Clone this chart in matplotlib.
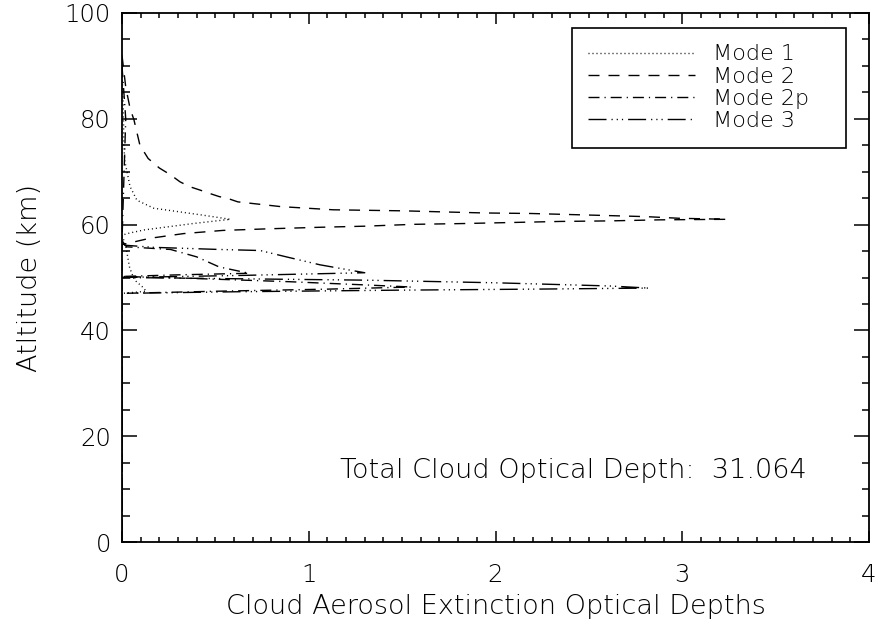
import matplotlib
matplotlib.use("Agg")
import matplotlib.pyplot as plt
from matplotlib.ticker import MultipleLocator

plt.rcParams['font.family'] = ['DejaVu Sans']
plt.rcParams['font.weight'] = 'light'
plt.rcParams['axes.labelweight'] = 'light'
plt.rcParams['lines.scale_dashes'] = False

# ---- data ----
mode1_alt = [88, 85, 80, 75, 72, 70.3, 67.2, 64.6, 63.1, 62.5, 61.8, 61.0, 60.2, 59.6, 59.0, 58.4, 58.0,
             56.0, 54.0, 52.0, 50.8, 49.5, 48.3, 47.4, 47.0, 0]
mode1_x = [0.0, 0.005, 0.008, 0.01, 0.015, 0.025, 0.043, 0.08, 0.17, 0.29, 0.43, 0.58, 0.38, 0.25, 0.12, 0.04, 0.0,
           0.02, 0.03, 0.04, 0.052, 0.068, 0.107, 0.13, 0.0, 0.0]

mode2_alt = [92, 86, 82, 79.8, 75.0, 72.5, 70.7, 69.4, 68.1, 67.2, 66.5, 66.0, 65.3, 64.9, 64.3, 63.4,
             62.8, 62.6, 62.4, 62.2, 62.1, 61.9, 61.7, 61.5, 61.2, 61.0, 60.9, 60.7, 60.6, 60.4, 60.2, 60.05,
             59.7, 59.5, 59.2, 58.9, 58.3, 57.4, 56.2, 0]
mode2_x = [0.0, 0.02, 0.043, 0.064, 0.096, 0.14, 0.20, 0.26, 0.31, 0.36, 0.42, 0.46, 0.52, 0.57, 0.62, 0.85,
           1.13, 1.51, 1.72, 1.94, 2.19, 2.40, 2.61, 2.81, 2.98, 3.24, 2.88, 2.61, 2.35, 2.09, 1.83, 1.56,
           1.30, 1.065, 0.78, 0.54, 0.33, 0.147, 0.0, 0.0]

mode2p_alt = [90, 80, 57, 56.1, 55.8, 55.3, 53.9, 52.0, 50.8, 50.5, 50.2, 49.8, 49.2, 48.6, 48.2, 47.8, 47.4, 47.0, 0]
mode2p_x = [0.0, 0.02, 0.0, 0.016, 0.025, 0.26, 0.40, 0.52, 0.68, 0.3, 0.0, 0.4, 0.9, 1.3, 1.55, 1.1, 0.5, 0.0, 0.0]

mode3_alt = [57, 56.1, 55.7, 55.3, 55.1, 53.9, 52.4, 50.9, 50.4, 50.0, 49.5, 49.0, 48.4, 48.0, 47.8, 47.6, 47.3, 47.0, 0]
mode3_x = [0.0, 0.016, 0.17, 0.52, 0.74, 0.88, 1.06, 1.30, 0.65, 0.0, 1.3, 2.0, 2.61, 2.82, 2.2, 1.46, 0.6, 0.0, 0.0]

labels = ["Mode 1", "Mode 2", "Mode 2p", "Mode 3"]
total_depth = 31.064

# ---- styles ----
px = 0.72  # points per pixel at dpi 100
styles = [
    (0, (1.0 * px, 3.0 * px)),
    (0, (11 * px, 9 * px)),
    (0, (11 * px, 5 * px, 1.2 * px, 5 * px)),
    (0, (18 * px, 5 * px, 1.2 * px, 4 * px, 1.2 * px, 4 * px, 1.2 * px, 5 * px)),
]

fig = plt.figure(figsize=(8.82, 6.29), dpi=100)
ax = fig.add_axes([122 / 882, 1 - 542 / 629, 747 / 882, 529 / 629])

series = [(mode1_x, mode1_alt), (mode2_x, mode2_alt), (mode2p_x, mode2p_alt), (mode3_x, mode3_alt)]
for (xs, ys), ls, lab in zip(series, styles, labels):
    ax.plot(xs, ys, color='black', lw=1.0, linestyle=ls, label=lab)

ax.set_xlim(0, 4)
ax.set_ylim(0, 100)
ax.xaxis.set_major_locator(MultipleLocator(1))
ax.xaxis.set_minor_locator(MultipleLocator(0.1))
ax.yaxis.set_major_locator(MultipleLocator(20))
ax.yaxis.set_minor_locator(MultipleLocator(5))

fs = 17.5
fs_big = 19.5
ax.tick_params(axis='x', which='major', direction='in', length=10.6 * px, width=1.1, top=True,
               labelsize=fs, pad=15)
ax.tick_params(axis='x', which='minor', direction='in', length=5.3 * px, width=1.1, top=True)
ax.tick_params(axis='y', which='major', direction='in', length=15 * px, width=1.1, right=True,
               labelsize=fs, pad=8)
ax.tick_params(axis='y', which='minor', direction='in', length=7.5 * px, width=1.1, right=True)
for sp in ax.spines.values():
    sp.set_linewidth(1.3)

ax.set_xlabel("Cloud Aerosol Extinction Optical Depths", fontsize=fs_big, labelpad=5)
ax.set_ylabel("Atltitude (km)", fontsize=fs_big, labelpad=16)

ax.text(1.167, 13.6, "Total Cloud Optical Depth:  %.3f" % total_depth, fontsize=fs_big,
        ha='left', va='center')

leg = ax.legend(loc='upper left', bbox_to_anchor=(0.602, 0.747, 0.367, 0.225), mode='expand',
                borderaxespad=0, fontsize=16, handlelength=4.8, handletextpad=0.8,
                labelspacing=0.1, frameon=True, fancybox=False, borderpad=0.75)
leg.get_frame().set_edgecolor('black')
leg.get_frame().set_linewidth(1.2)
leg.get_frame().set_alpha(1)

fig.savefig("out.png", dpi=100)
